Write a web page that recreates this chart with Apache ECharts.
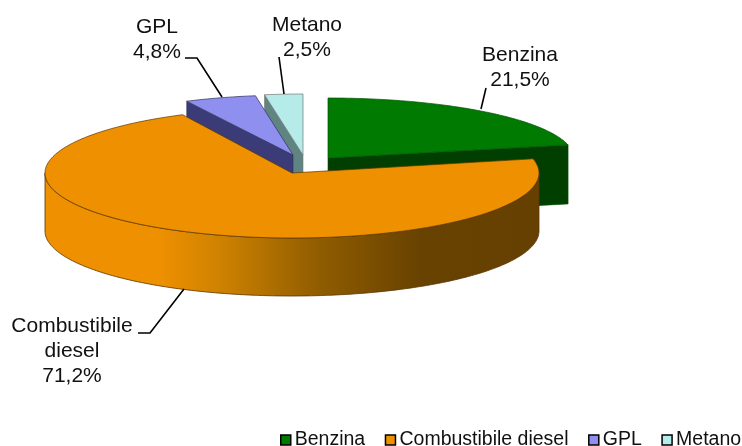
<!DOCTYPE html>
<html><head><meta charset="utf-8">
<style>html,body{margin:0;padding:0;background:#fff}#c{width:742px;height:446px}</style>
<script src="https://cdn.jsdelivr.net/npm/echarts@6/dist/echarts.min.js"></script>
</head><body><div id="c"></div>
<script>
const categories = ['Benzina','Combustibile diesel','GPL','Metano'];
const shares = [21.5,71.2,4.8,2.5];
const labelLines = [['Benzina'],['Combustibile','diesel'],['GPL'],['Metano']];

// layout / style only (not data)
const geom = [
 {ax:328,ay:158,rx:246,ry:60,d:59,top:'#007a00',wall:'#003f00',edge:'#005000',z:1,lx:520,ly:55,lead:[[486,88],[481,109]]},
 {ax:292,ay:173,rx:247,ry:65,d:58,top:'#ee9000',edge:'#5a3500',z:4,lx:72,ly:326,lead:[[138,333],[150,333],[184,289]]},
 {ax:293,ay:155,rx:240,ry:60,d:58,top:'#8f8ff0',wall:'#3b3b78',edge:'#30305a',z:3,lx:157,ly:27,lead:[[185,58],[197,58],[222,97]]},
 {ax:303,ay:155,rx:246,ry:61,d:58,top:'#b5ebe9',wall:'#5f8482',edge:'#777',z:2,lx:307,ly:25,lead:[[279,57],[284,94]]}
];
const FONT = 21, LINE = 25, TXT = '#111';
const total = shares.reduce((a,b)=>a+b,0);
const pt = (g,t,dy=0)=>[g.ax+g.rx*Math.sin(t), g.ay-g.ry*Math.cos(t)+dy];
const arc = (g,a,b,dy=0)=>{const n=Math.max(4,Math.ceil((b-a)/0.02)),o=[];for(let i=0;i<=n;i++)o.push(pt(g,a+(b-a)*i/n,dy));return o;};
const pct = v=>v.toFixed(1).replace('.',',')+'%';

function render(idx){
 return function(params,api){
  const val=api.value(0), g=geom[idx];
  const before=shares.slice(0,idx).reduce((a,b)=>a+b,0);
  const a=before/total*2*Math.PI, b=(before+val)/total*2*Math.PI;
  const kids=[];
  const poly=(points,fill,stroke,lw)=>kids.push({type:'polygon',shape:{points},style:{fill,stroke:stroke||null,lineWidth:lw||0}});
  if(idx!==1){
    const A=[g.ax,g.ay];
    const cut = idx===0 ? b : a;
    poly([A,pt(g,cut),pt(g,cut,g.d),[g.ax,g.ay+g.d]],g.wall,g.edge,0.6);
  } else {
    const s=Math.PI/2,e=3*Math.PI/2;
    poly(arc(g,s,e).concat(arc(g,s,e,g.d).reverse()),{type:'linear',x:45,y:0,x2:539,y2:0,global:true,colorStops:[
      {offset:0,color:'#ee9000'},{offset:0.23,color:'#ee9000'},{offset:0.354,color:'#cf8200'},{offset:0.557,color:'#8f5c00'},{offset:0.76,color:'#684200'},{offset:1,color:'#654000'}]},g.edge,0.8);
  }
  poly([[g.ax,g.ay]].concat(arc(g,a,b)),g.top,g.edge,0.7);
  kids.push({type:'polyline',z2:20,shape:{points:g.lead},style:{fill:null,stroke:'#000',lineWidth:1.6}});
  const lines=labelLines[idx].concat([pct(val)]);
  lines.forEach((t,i)=>kids.push({type:'text',z2:20,style:{text:t,x:g.lx,y:g.ly+i*LINE,align:'center',verticalAlign:'middle',fill:TXT,font:FONT+'px "Liberation Sans", Arial, sans-serif'}}));
  return {type:'group',children:kids};
 };
}

const chart=echarts.init(document.getElementById('c'),null,{renderer:'canvas'});
chart.setOption({
 animation:false,
 legend:{data:categories,left:280,top:430,padding:0,itemWidth:10,itemHeight:10,itemGap:19.5,
   icon:'rect',textStyle:{fontFamily:'"Liberation Sans", Arial, sans-serif',fontSize:19.5,color:TXT,padding:[0,0,0,-1]},
   itemStyle:{borderColor:'#000',borderWidth:1.5}},
 series:categories.map((name,i)=>({
   type:'custom',name,coordinateSystem:'none',z:geom[i].z,silent:true,
   itemStyle:{color:geom[i].top},
   data:[[shares[i]]],
   renderItem:render(i),
   encode:{value:0}
 }))
});
</script></body></html>
